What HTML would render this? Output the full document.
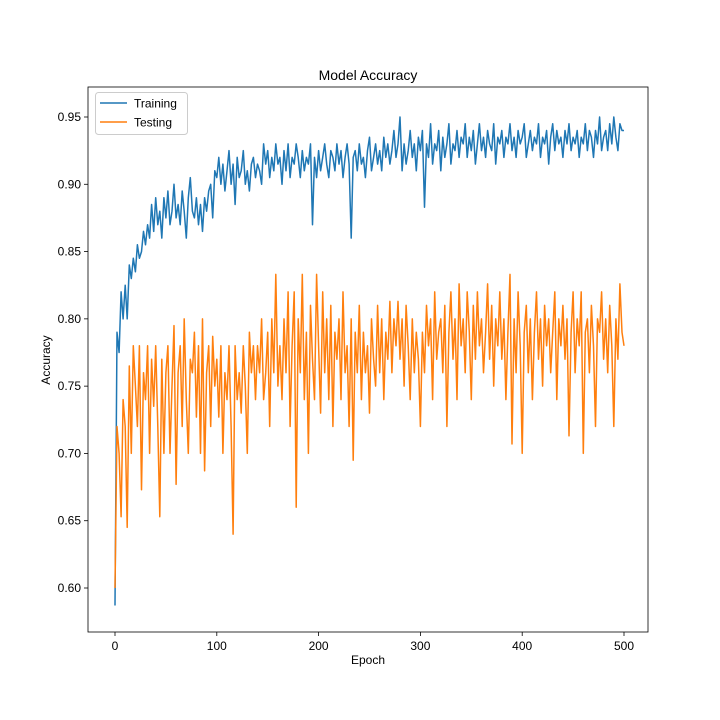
<!DOCTYPE html>
<html><head><meta charset="utf-8"><style>
body{margin:0;background:#fff;}
svg{display:block;font-family:"Liberation Sans","DejaVu Sans",sans-serif;}
</style></head><body>
<svg id="chart" width="720" height="720"></svg>
<script>
const epochs=[];for(let e=0;e<=500;e+=2)epochs.push(e);
const training=[.587,.79,.775,.82,.80,.825,.80,.84,.83,.845,
.835,.855,.845,.85,.865,.855,.87,.86,.885,.865,
.89,.87,.88,.86,.89,.875,.895,.87,.88,.90,
.875,.885,.87,.895,.88,.86,.89,.905,.88,.875,
.89,.87,.885,.865,.89,.88,.895,.90,.875,.91,
.905,.92,.90,.915,.895,.91,.925,.90,.915,.885,
.92,.905,.91,.925,.90,.91,.895,.915,.92,.905,
.915,.91,.90,.93,.915,.925,.905,.92,.91,.93,
.915,.92,.90,.925,.91,.93,.905,.92,.915,.93,
.92,.905,.925,.91,.92,.915,.93,.87,.92,.905,
.925,.91,.92,.93,.915,.905,.925,.92,.91,.93,
.915,.925,.905,.92,.93,.915,.86,.92,.925,.91,
.93,.915,.92,.905,.925,.935,.91,.92,.93,.915,
.925,.91,.935,.92,.93,.915,.925,.94,.92,.93,
.95,.91,.93,.915,.925,.94,.92,.93,.91,.935,
.925,.94,.883,.93,.92,.945,.915,.93,.925,.94,
.91,.935,.92,.93,.945,.915,.93,.925,.94,.92,
.935,.93,.945,.92,.935,.925,.94,.915,.93,.945,
.925,.935,.92,.94,.93,.925,.945,.915,.935,.93,
.94,.92,.935,.93,.945,.925,.935,.92,.94,.93,
.935,.945,.92,.93,.94,.925,.935,.93,.945,.92,
.935,.93,.94,.915,.935,.945,.925,.94,.93,.935,
.92,.94,.93,.945,.925,.935,.93,.94,.92,.935,
.93,.945,.925,.94,.935,.92,.94,.93,.95,.925,
.935,.94,.925,.945,.93,.95,.935,.925,.945,.94,.94];
const testing=[.60,.72,.70,.653,.74,.72,.645,.765,.70,.78,
.75,.72,.78,.673,.76,.74,.78,.70,.77,.735,
.78,.72,.653,.77,.70,.76,.78,.70,.75,.795,
.677,.76,.78,.72,.80,.74,.70,.77,.76,.79,
.727,.78,.70,.80,.687,.76,.78,.72,.787,.75,
.77,.727,.78,.70,.76,.74,.78,.72,.64,.78,
.74,.76,.73,.78,.75,.70,.79,.76,.78,.74,
.78,.76,.80,.74,.76,.79,.72,.80,.76,.833,
.75,.78,.74,.80,.76,.82,.72,.78,.82,.66,
.80,.76,.833,.74,.79,.70,.81,.77,.74,.833,
.78,.73,.82,.76,.80,.74,.81,.72,.79,.77,
.80,.74,.82,.76,.78,.72,.80,.695,.79,.76,
.81,.74,.79,.76,.78,.73,.80,.77,.75,.81,
.76,.80,.74,.79,.77,.813,.76,.80,.78,.813,
.77,.80,.75,.81,.78,.74,.80,.76,.79,.77,
.72,.79,.76,.81,.78,.80,.74,.82,.77,.79,
.80,.76,.81,.72,.79,.82,.77,.80,.74,.826,
.78,.80,.76,.82,.79,.74,.81,.77,.82,.78,
.80,.76,.79,.826,.77,.81,.75,.80,.78,.82,
.77,.80,.74,.79,.833,.707,.80,.76,.82,.78,
.70,.79,.81,.76,.80,.74,.79,.82,.77,.80,
.75,.81,.78,.80,.76,.79,.82,.74,.80,.78,
.81,.77,.80,.713,.79,.82,.76,.80,.78,.82,
.70,.79,.80,.76,.81,.78,.72,.80,.79,.82,
.77,.80,.76,.81,.78,.72,.80,.77,.826,.79,.78];
const xTicks=[0,100,200,300,400,500];
const yTicks=[0.60,0.65,0.70,0.75,0.80,0.85,0.90,0.95];

const svg=document.getElementById('chart');
const NS='http://www.w3.org/2000/svg';
const L=88,R=648,T=87,B=632;
const xs=e=>115+e*(509/500);
const ys=v=>117+(0.95-v)*(471/0.35);
function mk(tag,attrs,parent){const el=document.createElementNS(NS,tag);for(const k in attrs)el.setAttribute(k,attrs[k]);(parent||svg).appendChild(el);return el;}

const title=mk('text',{x:368,y:80,'text-anchor':'middle','font-size':14,fill:'#000'});title.textContent='Model Accuracy';



xTicks.forEach(t=>{
 const ln=mk('line',{x1:xs(t),x2:xs(t),y1:B,y2:B+4,stroke:'#000','stroke-width':0.8});
 
 
 const tx=mk('text',{x:xs(t),y:B+18,'text-anchor':'middle','font-size':12,fill:'#000'});tx.textContent=t;
 
 
});
yTicks.forEach(t=>{
 const ln=mk('line',{x1:L-4,x2:L,y1:ys(t),y2:ys(t),stroke:'#000','stroke-width':0.8});
 
 
 const tx=mk('text',{x:L-7,y:ys(t)+4,'text-anchor':'end','font-size':12,fill:'#000'});tx.textContent=t.toFixed(2);
 
 
});
const xl=mk('text',{x:368,y:664,'text-anchor':'middle','font-size':12,fill:'#000'});xl.textContent='Epoch';


const yl=mk('text',{x:50,y:360,'text-anchor':'middle','font-size':12,fill:'#000',transform:'rotate(-90 50 360)'});yl.textContent='Accuracy';



function line(data,color,name){
 const d=data.map((v,i)=>(i?'L':'M')+xs(epochs[i]).toFixed(1)+' '+ys(v).toFixed(1)).join('');
 const p=mk('path',{d:d,fill:'none',stroke:color,'stroke-width':1.5,'stroke-linejoin':'round'});
 
 
}
line(training,'#1f77b4','training-line');
line(testing,'#ff7f0e','testing-line');

const frame=mk('rect',{x:L,y:T,width:R-L,height:B-T,fill:'none',stroke:'#000','stroke-width':0.8});



const lg=mk('g',{});


mk('rect',{x:95.5,y:92.5,width:92,height:42,rx:3,fill:'#fff','fill-opacity':0.8,stroke:'#ccc'},lg);
[['Training','#1f77b4'],['Testing','#ff7f0e']].forEach((e,i)=>{
 const y=103+i*19;
 const g=mk('g',{},lg);
 
 
 mk('line',{x1:100,x2:127,y1:y,y2:y,stroke:e[1],'stroke-width':1.5},g);
 const t=mk('text',{x:134,y:y+4.5,'font-size':12,fill:'#000'},g);t.textContent=e[0];
});
</script>
</body></html>
